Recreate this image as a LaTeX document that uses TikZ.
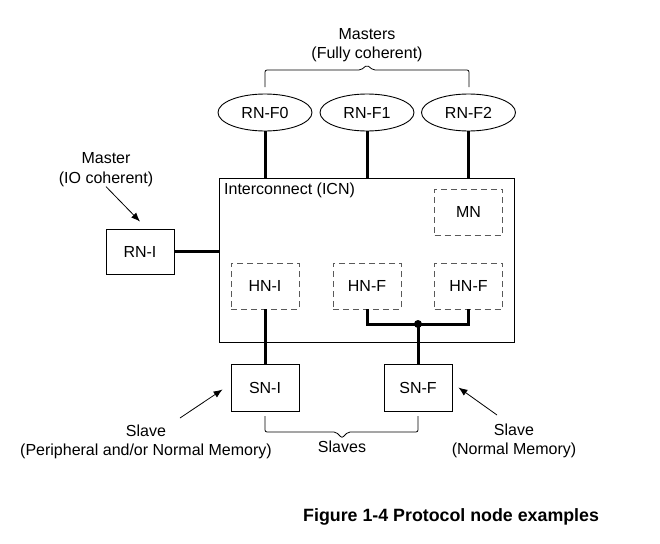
\documentclass[tikz,border=0pt]{standalone}
\usepackage{fontspec}
\setmainfont{Liberation Sans}
\usetikzlibrary{shapes.geometric,arrows.meta}

\begin{document}
\begin{tikzpicture}[x=1pt,y=-1pt,
	every node/.style={font=\fontsize{16}{19.5}\selectfont},
	box/.style={draw,line width=0.9pt,minimum width=68,minimum height=46,inner sep=0},
	hub/.style={draw=black!65,dash pattern=on 6pt off 4pt,line width=0.9pt,minimum width=68,minimum height=46,inner sep=0},
	rnf/.style={ellipse,draw,line width=0.9pt,minimum width=94,minimum height=37,inner sep=0},
	link/.style={line width=3pt},
	brace/.style={line width=0.8pt,rounded corners=2},
	note/.style={align=center,inner sep=0},
	pointer/.style={line width=0.8pt,-{Latex[length=9pt,width=7pt]}}]
	\useasboundingbox (0,0) rectangle (660,543);
	\node[draw,line width=0.9pt,minimum width=295,minimum height=164,inner sep=0] (icn) at (366.5,260) {};
	\node[anchor=west,inner sep=0] (icnl) at (224,190) {Interconnect (ICN)};
	\node[hub] (mn) at (468.5,212) {MN};
	\node[hub] (hni) at (265,286) {HN-I};
	\node[hub] (hnf0) at (367,286) {HN-F};
	\node[hub] (hnf1) at (468.5,286) {HN-F};
	\node[rnf] (rnf0) at (265,112.5) {RN-F0};
	\node[rnf] (rnf1) at (367,112.5) {RN-F1};
	\node[rnf] (rnf2) at (468.5,112.5) {RN-F2};
	\node[box,minimum height=45] (rni) at (140,251.5) {RN-I};
	\node[box,minimum height=47] (sni) at (265,387.5) {SN-I};
	\node[box,minimum height=47] (snf) at (418,387.5) {SN-F};
	\coordinate (join) at (418,324);
	\path[link]
	(rnf0) edge (rnf0 |- icn.north)
	(rnf1) edge (rnf1 |- icn.north)
	(rnf2) edge (rnf2 |- icn.north)
	(rni) edge (rni -| icn.west)
	(hni) edge (sni)
	(join) edge (snf);
	\draw[link] (hnf0) |- (join) -| (hnf1);
	\fill (join) circle (4);
	\draw[brace] (265,87) -- (265,70) -- (361,70) -- (367,65) -- (373,70) -- (469,70) -- (469,87);
	\draw[brace] (265,416) -- (265,432) -- (336,432) -- (342,438) -- (348,432) -- (418,432) -- (418,416);
	\node[note] (mstf) at (367,45) {Masters\\(Fully coherent)};
	\node[note] (msti) at (106,169.5) {Master\\(IO coherent)};
	\node[note] (slvi) at (146,442) {Slave\\(Peripheral and/or Normal Memory)};
	\node[inner sep=0] (slvs) at (342,447) {Slaves};
	\node[note] (slvf) at (514,441) {Slave\\(Normal Memory)};
	\node[anchor=west,inner sep=0,font=\bfseries\fontsize{17.8}{20}\selectfont] (cap) at (303,517) {Figure 1-4 Protocol node examples};
	\coordinate (tsi) at (180,418);
	\coordinate (tsf) at (497,415);
	\draw[pointer] (msti.south) -- ([yshift=7pt]rni.north);
	\draw[pointer] (tsi) -- ([xshift=-8pt,yshift=-2pt]sni.west);
	\draw[pointer] (tsf) -- ([xshift=6pt]snf.east);
\end{tikzpicture}
\end{document}
